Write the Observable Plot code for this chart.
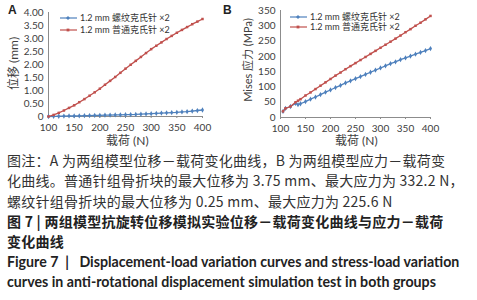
<!DOCTYPE html>
<html><head><meta charset="utf-8">
<script src="https://cdn.jsdelivr.net/npm/d3@7"></script>
<script src="https://cdn.jsdelivr.net/npm/@observablehq/plot@0.6"></script>
<style>
body{margin:0;background:#fff;}
#wrap{position:relative;width:477px;height:300px;overflow:hidden;font-family:"Noto Sans CJK SC",sans-serif;}
.abs{position:absolute;white-space:nowrap;}
.panel{font-family:"Liberation Sans",Arial,sans-serif;font-weight:bold;font-size:12px;color:#222;}
.ttl{font-family:Lato,"Noto Sans CJK SC",sans-serif;font-size:12px;color:#404040;}
.leg{font-family:Lato,"Noto Sans CJK SC",sans-serif;font-size:9px;color:#333;display:flex;align-items:center;}
.cap{font-family:"Noto Sans CJK SC",sans-serif;font-size:14px;color:#333;left:7px;line-height:20px;letter-spacing:0.25px;}
.fig{font-weight:bold;color:#222;}
.en{font-family:Lato,sans-serif;font-weight:bold;font-size:14.2px;color:#222;letter-spacing:0;}
</style></head>
<body><div id="wrap"></div>
<script>
const xTicks = [100,150,200,250,300,350,400];
const yTicksA = [0,0.5,1,1.5,2,2.5,3,3.5,4];
const yTicksB = [0,50,100,150,200,250,300,350];
const seriesNames = ["1.2 mm 螺纹克氏针 ×2","1.2 mm 普通克氏针 ×2"];
const colors = ["#4f81bd","#c0504d"];

const loadA = [100,110,120,130,140,150,160,170,180,190,200,210,220,230,240,250,260,270,280,290,300,310,320,330,340,350,360,370,380,390,400];
const dispScrew = [0,0.005,0.01,0.015,0.02,0.02,0.025,0.03,0.035,0.04,0.045,0.05,0.055,0.06,0.065,0.07,0.075,0.08,0.09,0.10,0.11,0.12,0.13,0.14,0.15,0.16,0.175,0.19,0.21,0.23,0.25];
const dispPlain = [0,0.06,0.14,0.23,0.33,0.43,0.55,0.67,0.80,0.93,1.07,1.22,1.37,1.52,1.68,1.84,1.99,2.14,2.29,2.44,2.59,2.72,2.85,2.98,3.10,3.22,3.33,3.44,3.55,3.65,3.75];

const loadB = [105,110,120,130,135,140,150,160,170,180,190,200,210,220,230,240,250,260,270,280,290,300,310,320,330,340,350,360,370,380,390,400];
const stressScrew = [20,30,36,46,42,45,52,60,67,75,83,90,98,105,113,120,127,134,141,148,155,162,169,176,182,189,195,201,207,213,219,225.6];
const stressPlain = [20,30,36,50,55,60,72,82,93,104,115,126,137,147,158,168,178,188,198,208,218,228,238,248,258,268,279,289,300,310,321,332.2];

const wrap = document.getElementById("wrap");
function rows(xs, ys){ return xs.map((x,i)=>({load:x, value:ys[i]})); }

function chart(opts){
  const p = Plot.plot({
    width: opts.width, height: 148,
    marginLeft: opts.ml, marginRight: opts.mr, marginTop: opts.mt, marginBottom: opts.mb,
    style:{fontFamily:"Lato, sans-serif", fontSize:"10px", color:"#404040", background:"transparent"},
    x:{domain:[100,400]},
    y:{domain:opts.yDomain},
    marks:[
      Plot.ruleX([100],{stroke:"#8c8c8c"}),
      Plot.ruleY([0],{stroke:"#8c8c8c"}),
      Plot.axisX({ticks:xTicks, tickSize:2, tickPadding:5, stroke:"#8c8c8c", label:null}),
      Plot.axisY({ticks:opts.yTicks, tickSize:0, tickPadding:5, tickFormat:opts.fmt, label:null}),
      Plot.line(opts.s1,{x:"load",y:"value",stroke:colors[0],strokeWidth:1.3}),
      Plot.dot(opts.s1,{x:"load",y:"value",symbol:"diamond",r:1.6,fill:colors[0]}),
      Plot.line(opts.s2,{x:"load",y:"value",stroke:colors[1],strokeWidth:1.3}),
      Plot.dot(opts.s2,{x:"load",y:"value",symbol:"square",r:1.4,fill:colors[1]})
    ]
  });
  p.style.position="absolute"; p.style.left=opts.left+"px"; p.style.top="0px";
  wrap.appendChild(p);
}

chart({width:238,left:0,ml:48,mr:36,mt:12,mb:32,yDomain:[0,4],yTicks:yTicksA,
  fmt:d=>d===0?"0":d.toFixed(2), s1:rows(loadA,dispScrew), s2:rows(loadA,dispPlain)});
chart({width:239,left:238,ml:42,mr:47,mt:10,mb:31,yDomain:[0,350],yTicks:yTicksB,
  fmt:d=>String(d), s1:rows(loadB,stressScrew), s2:rows(loadB,stressPlain)});

function add(html, cls, css){
  const d=document.createElement("div"); d.className="abs "+cls; d.innerHTML=html;
  Object.assign(d.style,css); wrap.appendChild(d); return d;
}
add("A","panel",{left:"8px",top:"3px"});
add("B","panel",{left:"223px",top:"3px"});
add("载荷 (N)","ttl",{left:"106px",top:"131px"});
add("载荷 (N)","ttl",{left:"335px",top:"131px"});
add("位移 (mm)","ttl",{left:"-14px",top:"55px",transform:"rotate(-90deg)"});
add("Mises 应力 (MPa)","ttl",{left:"205px",top:"52px",transform:"rotate(-90deg)",fontSize:"11px"});

function swatch(i){
  const sym = i===0
    ? `<path d="M8,-2 L10,0 L8,2 L6,0Z" transform="translate(0,3)" fill="${colors[i]}"/>`
    : `<rect x="6.6" y="1.6" width="2.8" height="2.8" fill="${colors[i]}"/>`;
  return `<svg width="17" height="6" style="margin-right:3px"><line x1="0" x2="17" y1="3" y2="3" stroke="${colors[i]}" stroke-width="1.2"/>${sym}</svg>`;
}
add(swatch(0)+seriesNames[0],"leg",{left:"60px",top:"11px"});
add(swatch(1)+seriesNames[1],"leg",{left:"60px",top:"23px"});
add(swatch(0)+seriesNames[0],"leg",{left:"290px",top:"10px"});
add(swatch(1)+seriesNames[1],"leg",{left:"290px",top:"20px"});

const capLines = [
  ["图注：A 为两组模型位移－载荷变化曲线，B 为两组模型应力－载荷变",""],
  ["化曲线。普通针组骨折块的最大位移为 3.75 mm、最大应力为 332.2 N，",""],
  ["螺纹针组骨折块的最大位移为 0.25 mm、最大应力为 225.6 N",""],
  ["图 7 | 两组模型抗旋转位移模拟实验位移－载荷变化曲线与应力－载荷","fig"],
  ["变化曲线","fig"],
  ["Figure 7 &nbsp;|&nbsp;&nbsp; Displacement-load variation curves and stress-load variation","en"],
  ["curves in anti-rotational displacement simulation test in both groups","en"]
];
capLines.forEach((l,i)=>add(l[0],"cap "+l[1],{top:(150+i*20.3)+"px"}));
</script></body></html>
